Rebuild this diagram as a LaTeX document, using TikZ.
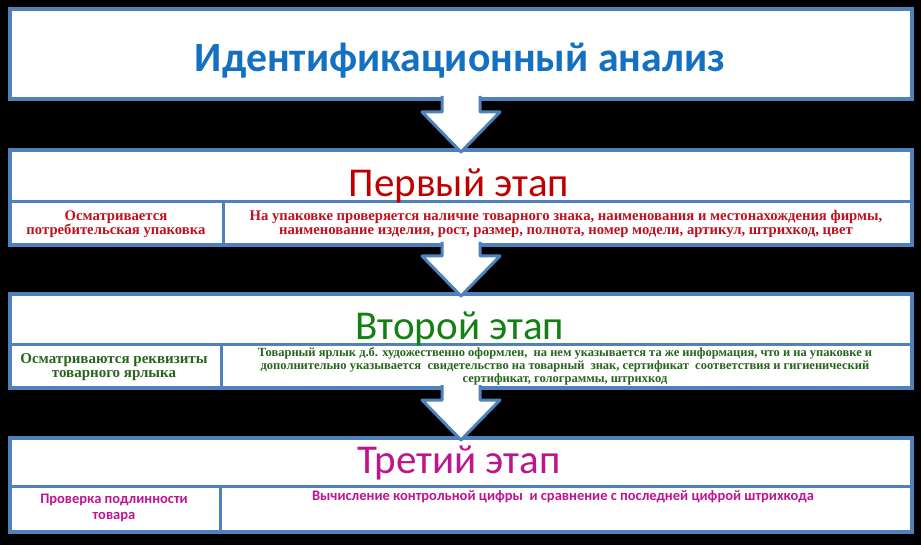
\documentclass[tikz,border=0pt]{standalone}
\usepackage{fontspec}
\setmainfont{Liberation Serif}
\newfontfamily\calibrif{Carlito}
\newfontfamily\timesf{Liberation Serif}
\usetikzlibrary{calc}
\definecolor{bord}{RGB}{79,129,189}
\definecolor{tblue}{RGB}{20,112,192}
\definecolor{tred}{RGB}{192,0,0}
\definecolor{rred}{RGB}{192,16,30}
\definecolor{tgreen}{RGB}{20,128,20}
\definecolor{rgreen}{RGB}{40,100,30}
\definecolor{tmag}{RGB}{190,20,140}
\definecolor{rmag}{RGB}{190,20,150}
\newcommand\stagearrow[2]{%
  \fill[white] ($(#1.south)+(-19,-3)$) -- ($(#2.north)+(-19,-38)$) -- ($(#2.north)+(-39,-38)$) -- ($(#2.north)+(0,2)$) -- ($(#2.north)+(39,-38)$) -- ($(#2.north)+(19,-38)$) -- ($(#1.south)+(19,-3)$) -- cycle;
  \draw[arrline] ($(#1.south)+(-19,-3)$) -- ($(#2.north)+(-19,-38)$) -- ($(#2.north)+(-39,-38)$) -- ($(#2.north)+(0,2)$) -- ($(#2.north)+(39,-38)$) -- ($(#2.north)+(19,-38)$) -- ($(#1.south)+(19,-3)$);
}
\begin{document}
\begin{tikzpicture}[x=1pt,y=-1pt,
  box/.style={draw=bord, line width=4pt, fill=white, minimum width=902pt, inner sep=0pt, outer sep=0pt},
  sepline/.style={draw=bord, line width=3pt},
  arrline/.style={draw=bord, line width=3pt, line join=round},
  stitle/.style={font=\calibrif\fontsize{41}{46}\selectfont, anchor=base, inner sep=0pt},
  serifrow/.style={font=\timesf\bfseries\fontsize{14.7}{14}\selectfont, align=center, inner sep=0pt},
  seriftiny/.style={font=\timesf\bfseries\fontsize{12.5}{13}\selectfont, align=center, inner sep=0pt},
  calrow/.style={font=\calibrif\bfseries\fontsize{14.5}{15.5}\selectfont, align=center, inner sep=0pt}]
\fill[black] (0,0) rectangle (921,545);
\useasboundingbox (0,0) rectangle (921,545);

\node[box, minimum height=90pt] (b0) at (461,54) {};
\node[box, minimum height=95pt] (s1) at (461,197.5) {};
\node[box, minimum height=94pt] (s2) at (461,341) {};
\node[box, minimum height=94pt] (s3) at (461,485) {};

% separators
\draw[sepline] (s1.west |- 0,202) -- (s1.east |- 0,202);
\draw[sepline] (223,202) -- (s1.south -| 223,0);
\draw[sepline] (s2.west |- 0,344) -- (s2.east |- 0,344);
\draw[sepline] (221,344) -- (s2.south -| 221,0);
\draw[sepline] (s3.west |- 0,486) -- (s3.east |- 0,486);
\draw[sepline] (220,486) -- (s3.south -| 220,0);

% arrows
\stagearrow{b0}{s1}
\stagearrow{s1}{s2}
\stagearrow{s2}{s3}

% texts
\node[font=\calibrif\bfseries\fontsize{41.7}{48}\selectfont, text=tblue, anchor=base, inner sep=0pt] (t0) at (460,72) {Идентификационный анализ};

\node[stitle, text=tred] (t1) at (459,197) {Первый этап};
\node[serifrow, text=rred] (l1) at (116,224) {Осматривается\\потребительская упаковка};
\node[serifrow, text=rred] (r1) at (566,224) {На упаковке проверяется наличие товарного знака, наименования и местонахождения фирмы,\\наименование изделия, рост, размер, полнота, номер модели, артикул, штрихкод, цвет};

\node[stitle, text=tgreen] (t2) at (460,339) {Второй этап};
\node[serifrow, font=\timesf\bfseries\fontsize{15}{14}\selectfont, text=rgreen] (l2) at (114,367) {Осматриваются реквизиты\\товарного ярлыка};
\node[seriftiny, text=rgreen] (r2) at (565,366.5) {Товарный ярлык д.б. художественно оформлен,\ \ на нем указывается та же информация, что и на упаковке и\\дополнительно указывается\ \ свидетельство на товарный\ \ знак, сертификат\ \ соответствия и гигиенический\\сертификат, голограммы, штрихкод};

\node[stitle, text=tmag] (t3) at (459,473) {Третий этап};
\node[calrow, text=rmag] (l3) at (114,508) {Проверка подлинности\\товара};
\node[calrow, text=rmag] (r3) at (563,497) {Вычисление контрольной цифры\ \ и сравнение с последней цифрой штрихкода};
\end{tikzpicture}
\end{document}
